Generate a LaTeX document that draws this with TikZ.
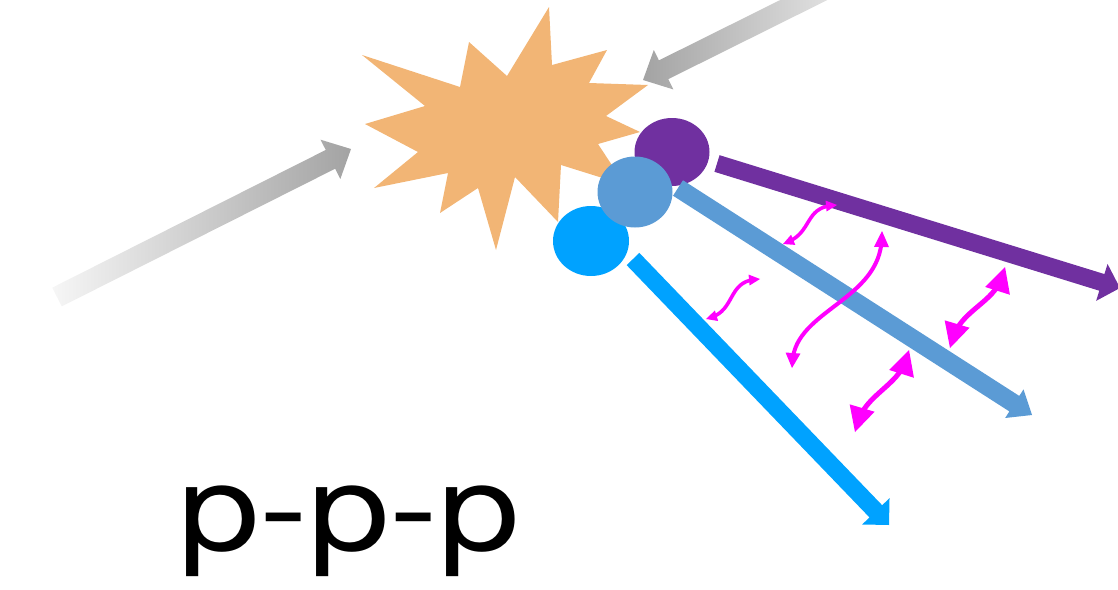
\documentclass[tikz,border=0pt]{standalone}
\usepackage{fontspec}
\setmainfont{TeX Gyre Heros}
\usetikzlibrary{calc,shapes.geometric}

\definecolor{burst}{HTML}{F2B575}
\definecolor{trackpurple}{HTML}{7030A0}
\definecolor{trackblue}{HTML}{5B9BD5}
\definecolor{tracksky}{HTML}{00A2FF}
\definecolor{gluon}{HTML}{FF00FF}
\definecolor{beamdark}{HTML}{A3A3A3}
\definecolor{beamlight}{HTML}{F6F6F6}

% block arrow from #2 (tail) to #3 (tip), painted with options #1;
% #4 half shaft width, #5 head length, #6 half head width
\newcommand{\blockarrow}[6]{%
  \coordinate (#2-base) at ($(#3)!#5!(#2)$);
  \path[#1]
    ($(#2)!#4!90:(#3)$) -- ($(#2-base)!#4!90:(#3)$) --
    ($(#2-base)!#6!90:(#3)$) -- (#3) --
    ($(#2-base)!#6!-90:(#3)$) -- ($(#2-base)!#4!-90:(#3)$) --
    ($(#2)!#4!-90:(#3)$) -- cycle;
}
% triangular head at #1 pointing away from #2; #3 length, #4 half width
\newcommand{\gluonhead}[4]{%
  \coordinate (#1-hb) at ($(#1)!#3!(#2)$);
  \fill[gluon] (#1) -- ($(#1-hb)!#4!90:(#1)$) -- ($(#1-hb)!#4!-90:(#1)$) -- cycle;
}

\tikzset{
  ball/.style={ellipse, inner sep=0pt, draw=none},
  wiggle/.style={gluon, line cap=butt},
}

\begin{document}
\begin{tikzpicture}[x=1pt, y=-1pt]
\useasboundingbox (0,0) rectangle (1118,589);
\clip (0,0) rectangle (1118,589);

% incoming beams
\coordinate (inTail) at (57,297);
\coordinate (inTip) at (351,149);
\coordinate (outTail) at (840,-18);
\coordinate (outTip) at (643,80);
\blockarrow{left color=beamlight, right color=beamdark}{inTail}{inTip}{10.5pt}{23pt}{22pt}
\blockarrow{left color=beamdark, right color=beamlight!80!beamdark}{outTail}{outTip}{10.5pt}{23pt}{22pt}

% collision burst
\fill[burst] (549,7) -- (552,65) -- (607,50) -- (589,83) -- (648,85)
  -- (606,116) -- (640,132) -- (598,144) -- (625,185) -- (561,165)
  -- (558,222) -- (515,177) -- (496,250) -- (478,188) -- (440,213)
  -- (448,173) -- (374,188) -- (418,152) -- (365,124) -- (425,106)
  -- (362,55) -- (460,87) -- (469,42) -- (507,76) -- cycle;

% outgoing particles
\node[ball, fill=trackpurple, minimum width=75pt, minimum height=68pt] (pp) at (672,152) {};
\node[ball, fill=tracksky, minimum width=76pt, minimum height=70pt] (ps) at (591,241) {};
\node[ball, fill=trackblue, minimum width=75pt, minimum height=71pt] (pb) at (635,192) {};

% particle tracks
\coordinate (tpTail) at (717,163.5);
\coordinate (tpTip) at (1120,288);
\coordinate (tbTail) at (678,188);
\coordinate (tbTip) at (1032,415);
\coordinate (tsTail) at (633,259);
\coordinate (tsTip) at (889,525);
\blockarrow{fill=trackpurple}{tpTail}{tpTip}{8.7pt}{19pt}{19.3pt}
\blockarrow{fill=trackblue}{tbTail}{tbTip}{9.2pt}{21pt}{17pt}
\blockarrow{fill=tracksky}{tsTail}{tsTip}{8.8pt}{19pt}{19pt}

% interactions between the tracks
\coordinate (ga1) at (783,244); \coordinate (ga2) at (837,205);
\coordinate (gb1) at (706,319); \coordinate (gb2) at (760,279);
\coordinate (gc1) at (792,368); \coordinate (gc2) at (882,231);
\coordinate (gd1) at (855,432); \coordinate (gd2) at (909,350);
\coordinate (ge1) at (950,348); \coordinate (ge2) at (1005,267);

\draw[wiggle, line width=3.6pt, shorten <=5pt, shorten >=5pt]
  (ga1) .. controls (812,232) and (805,208) .. (ga2);
\gluonhead{ga1}{812,232}{11pt}{5.5pt}
\gluonhead{ga2}{805,208}{11pt}{5.5pt}

\draw[wiggle, line width=3.6pt, shorten <=5pt, shorten >=5pt]
  (gb1) .. controls (735,310) and (728,282) .. (gb2);
\gluonhead{gb1}{735,310}{11pt}{5.5pt}
\gluonhead{gb2}{728,282}{11pt}{5.5pt}

\draw[wiggle, line width=4pt, shorten <=7pt, shorten >=7pt]
  (gc1) .. controls (796,310) and (880,300) .. (gc2);
\gluonhead{gc1}{796,310}{15pt}{7.5pt}
\gluonhead{gc2}{880,300}{16pt}{7.5pt}

\draw[wiggle, line width=5pt, shorten <=11pt, shorten >=11pt]
  (gd1) .. controls (866,395) and (898,385) .. (gd2);
\gluonhead{gd1}{866,395}{25pt}{13pt}
\gluonhead{gd2}{898,385}{25pt}{13pt}

\draw[wiggle, line width=5pt, shorten <=11pt, shorten >=11pt]
  (ge1) .. controls (961,311) and (994,302) .. (ge2);
\gluonhead{ge1}{961,311}{25pt}{13pt}
\gluonhead{ge2}{994,302}{25pt}{13pt}

% label
\node[anchor=base west, inner sep=0pt] (label) at (178,550)
  {\fontsize{120}{120}\selectfont\scalebox{1.22}[1]{p-p-p}};
\end{tikzpicture}
\end{document}
